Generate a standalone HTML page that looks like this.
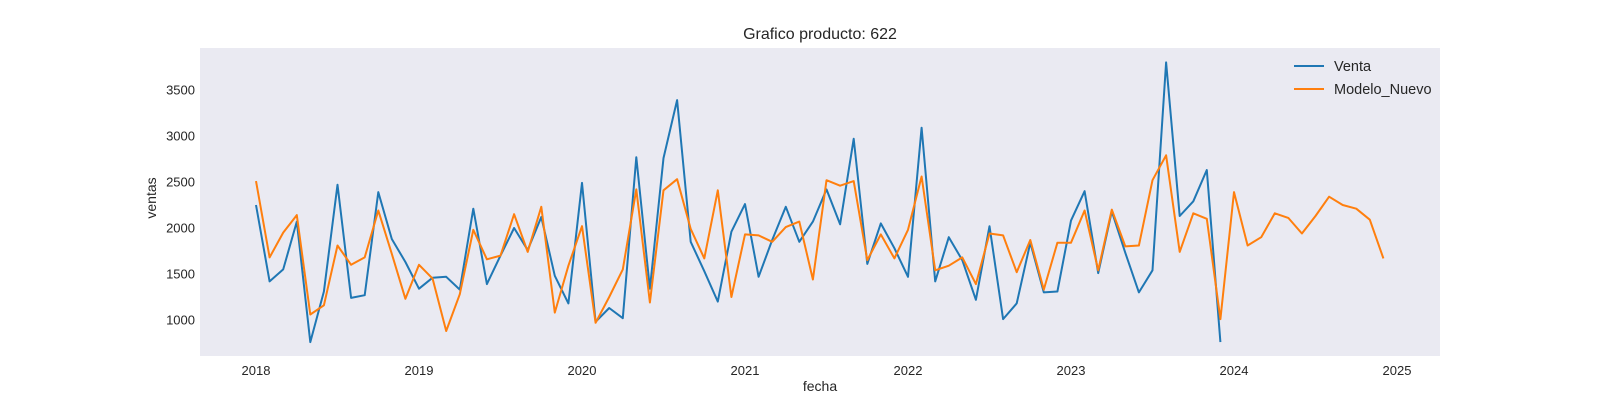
<!DOCTYPE html>
<html><head><meta charset="utf-8"><style>
body{margin:0;background:#fff;}
svg text{font-family:"Liberation Sans",Arial,sans-serif;}
</style></head><body>
<svg id="chart" width="1600" height="400" xmlns="http://www.w3.org/2000/svg">
<rect x="200" y="48" width="1240" height="308" fill="#eaeaf2"/>
<text x="820" y="39" text-anchor="middle" font-size="16" fill="#262626">Grafico producto: 622</text>
<text x="820" y="391" text-anchor="middle" font-size="14" fill="#262626">fecha</text>
<text x="156" y="198" text-anchor="middle" font-size="14" fill="#262626" transform="rotate(-90 156 198)">ventas</text>
<g id="xticks"></g><g id="yticks"></g><g id="series"></g>
<g>
<line x1="1294" y1="66" x2="1324" y2="66" stroke="#1f77b4" stroke-width="2"/>
<text x="1334" y="71" font-size="14.5" fill="#262626">Venta</text>
<line x1="1294" y1="89" x2="1324" y2="89" stroke="#ff7f0e" stroke-width="2"/>
<text x="1334" y="94" font-size="14.5" fill="#262626">Modelo_Nuevo</text>
</g>
</svg>
<script>
const xTickYears=[2018,2019,2020,2021,2022,2023,2024,2025];
const yTickValues=[1000,1500,2000,2500,3000,3500];
const startYear=2018;
const venta=[2250,1420,1550,2070,760,1310,2470,1240,1270,2390,1880,1630,
1340,1460,1470,1330,2210,1390,1700,2000,1760,2120,1480,1180,
2490,980,1130,1020,2770,1340,2760,3390,1850,1530,1200,1960,
2260,1470,1870,2230,1850,2070,2420,2040,2970,1610,2050,1780,
1470,3090,1420,1900,1650,1220,2020,1010,1180,1840,1300,1310,
2080,2400,1510,2180,1730,1300,1540,3800,2130,2290,2630,760];
const modeloNuevo=[2510,1680,1950,2140,1060,1160,1810,1600,1680,2190,1720,1230,
1600,1450,880,1280,1980,1660,1700,2150,1740,2230,1080,1590,
2020,970,1250,1550,2420,1190,2410,2530,1990,1670,2410,1250,
1930,1920,1850,2010,2070,1440,2520,2460,2510,1650,1930,1670,
1980,2560,1540,1590,1680,1390,1940,1920,1520,1870,1330,1840,
1840,2190,1540,2200,1800,1810,2520,2790,1740,2160,2100,1010,
2390,1810,1900,2160,2110,1940,2130,2340,2250,2210,2090,1670];
const NS="http://www.w3.org/2000/svg";
function xScale(t){return 256+(t-startYear)*163;}
function yScale(v){return 320-(v-1000)*0.092;}
function monthX(i){return xScale(startYear+i/12);}
const xt=document.getElementById('xticks');
xTickYears.forEach(y=>{const t=document.createElementNS(NS,'text');


t.setAttribute('x',xScale(y));t.setAttribute('y',375);t.setAttribute('text-anchor','middle');
t.setAttribute('font-size','13');t.setAttribute('fill','#262626');t.textContent=y;xt.appendChild(t);});
const yt=document.getElementById('yticks');
yTickValues.forEach(v=>{const t=document.createElementNS(NS,'text');


t.setAttribute('x',195);t.setAttribute('y',yScale(v)+4.5);t.setAttribute('text-anchor','end');
t.setAttribute('font-size','13');t.setAttribute('fill','#262626');t.textContent=v;yt.appendChild(t);});
const sg=document.getElementById('series');
function drawLine(arr,color,name){const p=document.createElementNS(NS,'polyline');


p.setAttribute('points',arr.map((v,i)=>monthX(i).toFixed(1)+','+yScale(v).toFixed(1)).join(' '));
p.setAttribute('fill','none');p.setAttribute('stroke',color);p.setAttribute('stroke-width','2');
p.setAttribute('stroke-linejoin','round');sg.appendChild(p);}
drawLine(venta,'#1f77b4','venta-line');
drawLine(modeloNuevo,'#ff7f0e','modelo-nuevo-line');
</script>
</body></html>
